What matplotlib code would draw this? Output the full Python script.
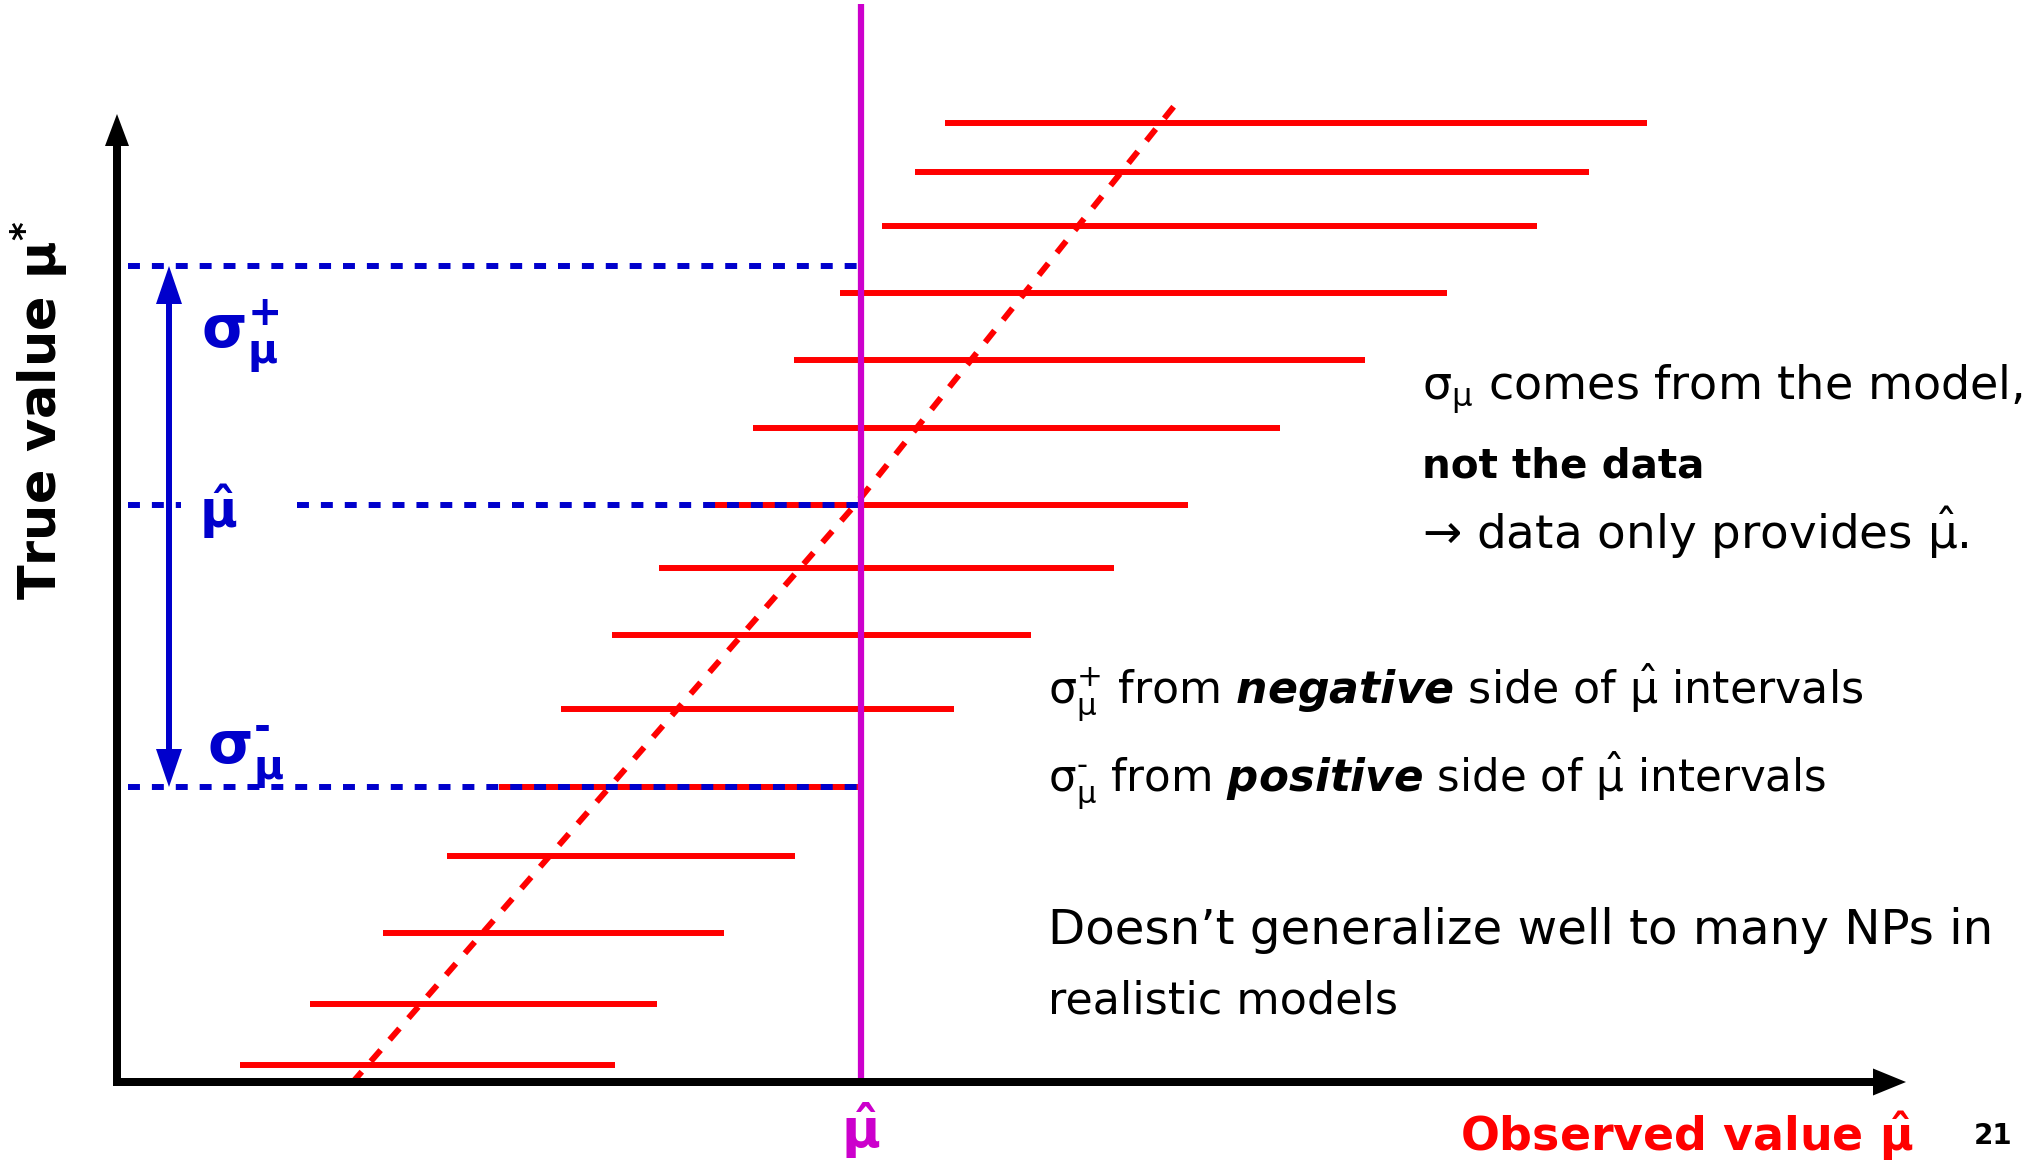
import matplotlib
matplotlib.use("Agg")
import matplotlib.pyplot as plt

plt.rcParams["font.family"] = ["DejaVu Sans"]
plt.rcParams["mathtext.fontset"] = "dejavusans"
plt.rcParams["mathtext.default"] = "regular"

RED = "#FF0000"
BLUE = "#0000CC"
MAGENTA = "#CC00CC"

# Observed value mu-hat (x) and the confidence intervals for each true value (y)
mu_hat = 7.44
true_levels = [9.59, 9.10, 8.56, 7.89, 7.22, 6.54, 5.77, 5.14, 4.47, 3.73, 2.95, 2.26, 1.49, 0.78, 0.17]
interval_lo = [8.28, 7.98, 7.65, 7.23, 6.77, 6.36, 5.88, 5.42, 4.95, 4.44, 3.82, 3.30, 2.66, 1.93, 1.23]
interval_hi = [15.30, 14.72, 14.20, 13.30, 12.48, 11.63, 10.71, 9.97, 9.14, 8.37, 7.44, 6.78, 6.07, 5.40, 4.98]

# Centre of the belt (dashed diagonal)
belt_x = [2.35, 7.38, 10.58]
belt_y = [-0.01, 5.77, 9.77]

sigma_up_level = 8.16
mu_hat_level = 5.77
sigma_down_level = 2.95


def px(fx):
    return (fx - 117) / 100.0


def py(fy):
    return (1082 - fy) / 100.0


fig = plt.figure(figsize=(20.33, 11.62), dpi=100)
ax = fig.add_axes([0, 0, 1, 1])
ax.set_xlim(-1.17, 19.16)
ax.set_ylim(-0.80, 10.82)
ax.axis("off")

LW = 4.3

# intervals
ax.hlines(true_levels, interval_lo, interval_hi, colors=RED, lw=LW,
          capstyle="butt", zorder=2)

# belt centre
ax.plot(belt_x, belt_y, color=RED, lw=LW, ls=(0, (2.5, 2.3)),
        dash_capstyle="butt", zorder=3)

# blue reference levels
dash = (0, (2.0, 2.0))
x0 = 0.11
ax.plot([x0, mu_hat], [sigma_up_level] * 2, color=BLUE, lw=LW, ls=dash,
        dash_capstyle="butt", zorder=4)
ax.plot([x0, 0.64], [mu_hat_level] * 2, color=BLUE, lw=LW, ls=dash,
        dash_capstyle="butt", zorder=4)
ax.plot([1.80, mu_hat], [mu_hat_level] * 2, color=BLUE, lw=LW, ls=dash,
        dash_capstyle="butt", zorder=4)
ax.plot([x0, mu_hat], [sigma_down_level] * 2, color=BLUE, lw=LW, ls=dash,
        dash_capstyle="butt", zorder=4)

# vertical line at the observed value
ax.plot([mu_hat, mu_hat], [0, 10.78], color=MAGENTA, lw=4.5,
        solid_capstyle="butt", zorder=5)

# axes with arrow heads
ax.arrow(-0.04, 0, 17.93, 0, width=0.08, head_width=0.27, head_length=0.33,
         length_includes_head=True, fc="black", ec="none", zorder=6)
ax.arrow(0, -0.04, 0, 9.72, width=0.08, head_width=0.24, head_length=0.32,
         length_includes_head=True, fc="black", ec="none", zorder=6)

# double-headed blue arrow spanning sigma- .. sigma+
ax_x = 0.52
for lvl in (sigma_up_level, sigma_down_level):
    ax.arrow(ax_x, mu_hat_level, 0, lvl - mu_hat_level, width=0.06,
             head_width=0.26, head_length=0.38, length_includes_head=True,
             fc=BLUE, ec="none", zorder=6)

# blue labels
ax.text(px(201), py(349), r"$\sigma_{\mu}^{+}$", color=BLUE, weight="bold",
        fontsize=42, ha="left", va="baseline")
ax.text(px(218), py(528), r"$\hat{\mu}$", color=BLUE, weight="bold",
        fontsize=37, ha="center", va="baseline")
ax.text(px(207), py(765), r"$\sigma_{\mu}^{‐}$", color=BLUE, weight="bold",
        fontsize=42, ha="left", va="baseline")

# axis labels
ylab = ax.text(px(39), py(410), r"True value $\mu^{*}$", rotation=90,
               ha="center", va="center", weight="bold", fontsize=30)
xlab = ax.text(px(1913), py(1151), r"Observed value $\hat{\mu}$",
               ha="right", va="baseline", color=RED, weight="bold", fontsize=36)
ax.text(px(861), py(1148), r"$\hat{\mu}$", ha="center", va="baseline",
        color=MAGENTA, weight="bold", fontsize=38)
ax.text(px(2012), py(1144), "21", ha="right", va="baseline",
        weight="bold", fontsize=20)

# explanatory text: (left x, baseline y, string, weight, width in pixels)
lines = [
    (1422, 399, r"$\sigma_{\mu}$ comes from the model,", "normal", 600),
    (1422, 477, "not the data", "bold", 283),
    (1422, 549, r"→ data only provides $\hat{\mu}$.", "normal", 546),
    (1048, 704, r"$\sigma_{\mu}^{+}$ from $\mathbfit{negative}$ side of $\hat{\mu}$ intervals", "normal", 815),
    (1048, 792, r"$\sigma_{\mu}^{‐}$ from $\mathbfit{positive}$ side of $\hat{\mu}$ intervals", "normal", 780),
    (1048, 944, "Doesn’t generalize well to many NPs in", "normal", 945),
    (1048, 1013, "realistic models", "normal", 350),
]
texts = [ax.text(px(x), py(y), s, ha="left", va="baseline", weight=w,
                 fontsize=28) for x, y, s, w, _ in lines]

fig.canvas.draw()
renderer = fig.canvas.get_renderer()


def fit(t, target, use_height=False):
    for _ in range(2):
        bb = t.get_window_extent(renderer)
        cur = bb.height if use_height else bb.width
        t.set_fontsize(t.get_fontsize() * target / cur)


for t, spec in zip(texts, lines):
    fit(t, spec[4])
fit(ylab, 379, use_height=True)
fit(xlab, 454)

fig.savefig("out.png", dpi=100)
